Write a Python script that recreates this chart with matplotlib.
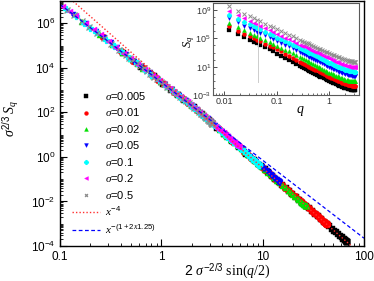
import matplotlib
matplotlib.use('Agg')
import matplotlib.pyplot as plt
import matplotlib.ticker as mticker
import numpy as np

plt.rcParams['font.family'] = ['Liberation Sans', 'DejaVu Sans']
plt.rcParams['mathtext.fontset'] = 'custom'
plt.rcParams['mathtext.rm'] = 'Liberation Sans'
plt.rcParams['mathtext.it'] = 'Liberation Serif:italic'
plt.rcParams['mathtext.sf'] = 'Liberation Serif'
plt.rcParams['mathtext.bf'] = 'Liberation Sans:bold'

# wave numbers q = 2*pi*n/1024
q = np.array([
    0.01227, 0.01841, 0.02454, 0.03068, 0.03682, 0.04295, 0.04909, 0.06136,
    0.07363, 0.08590, 0.1043, 0.1227, 0.1473, 0.1718, 0.2025, 0.2393,
    0.2823, 0.3068, 0.3313, 0.3620, 0.3927, 0.4234, 0.4602, 0.4970,
    0.5400, 0.5829, 0.6320, 0.6811, 0.7363, 0.7977, 0.8590, 0.9265,
    1.0002, 1.0799, 1.1658, 1.2579, 1.3499, 1.4542, 1.5647, 1.6690,
    1.7794, 1.9021, 2.0249, 2.1476, 2.2703, 2.3930, 2.5157, 2.6200,
    2.7305, 2.8225, 2.9146, 2.9943, 3.0680, 3.1416])

sigmas = [0.005, 0.01, 0.02, 0.05, 0.1, 0.2, 0.5]

# log10(S_q) for each sigma
log_s_0005 = [6.20, 5.59, 5.15, 4.81, 4.53, 4.30, 4.10, 3.76, 3.44, 3.17, 2.84, 2.55,
              2.24, 1.97, 1.68, 1.40, 1.11,
              0.97, 0.84, 0.68, 0.54, 0.41, 0.27, 0.14, 0.00, -0.13, -0.26, -0.39, -0.52,
              -0.65, -0.78, -0.90, -1.02, -1.14, -1.26, -1.37, -1.48, -1.59, -1.69, -1.78,
              -1.86, -1.94, -2.01, -2.07, -2.13, -2.17, -2.21, -2.24, -2.26, -2.27, -2.28,
              -2.29, -2.30, -2.30]
log_s_001 = [6.71, 6.09, 5.65, 5.31, 5.04, 4.80, 4.60, 4.26, 3.98, 3.75, 3.44, 3.16,
             2.84, 2.58, 2.29, 2.00, 1.72,
             1.57, 1.44, 1.29, 1.15, 1.02, 0.88, 0.74, 0.60, 0.47, 0.34, 0.21, 0.08,
             -0.05, -0.17, -0.29, -0.42, -0.54, -0.66, -0.77, -0.88, -0.98, -1.09, -1.17,
             -1.25, -1.34, -1.41, -1.47, -1.53, -1.57, -1.61, -1.63, -1.66, -1.67, -1.68,
             -1.69, -1.69, -1.69]
log_s_002 = [7.21, 6.59, 6.15, 5.81, 5.54, 5.30, 5.10, 4.76, 4.48, 4.25, 3.95, 3.71,
             3.43, 3.18, 2.89, 2.60, 2.32,
             2.17, 2.04, 1.89, 1.75, 1.62, 1.48, 1.34, 1.20, 1.07, 0.94, 0.81, 0.68,
             0.55, 0.43, 0.31, 0.18, 0.06, -0.06, -0.17, -0.28, -0.38, -0.49, -0.57,
             -0.65, -0.74, -0.81, -0.87, -0.93, -0.97, -1.01, -1.03, -1.06, -1.07, -1.08,
             -1.09, -1.09, -1.09]
log_s_005 = [7.87, 7.26, 6.82, 6.48, 6.20, 5.97, 5.76, 5.42, 5.15, 4.91, 4.62, 4.37,
             4.09, 3.86, 3.61, 3.36, 3.11,
             2.97, 2.84, 2.68, 2.55, 2.42, 2.27, 2.14, 2.00, 1.87, 1.74, 1.61, 1.48,
             1.35, 1.23, 1.10, 0.98, 0.86, 0.74, 0.63, 0.52, 0.41, 0.31, 0.23,
             0.15, 0.06, -0.01, -0.07, -0.13, -0.17, -0.21, -0.24, -0.26, -0.27, -0.28,
             -0.29, -0.29, -0.30]
log_s_01 = [8.37, 7.76, 7.32, 6.98, 6.70, 6.47, 6.26, 5.92, 5.65, 5.41, 5.12, 4.87,
            4.59, 4.36, 4.11, 3.86, 3.61,
            3.48, 3.37, 3.24, 3.11, 3.00, 2.87, 2.74, 2.60, 2.47, 2.34, 2.21, 2.08,
            1.95, 1.83, 1.70, 1.58, 1.46, 1.34, 1.23, 1.12, 1.01, 0.91, 0.83,
            0.75, 0.66, 0.59, 0.53, 0.47, 0.43, 0.39, 0.36, 0.34, 0.33, 0.32,
            0.31, 0.31, 0.30]
log_s_02 = [8.87, 8.26, 7.82, 7.48, 7.20, 6.97, 6.77, 6.43, 6.15, 5.92, 5.62, 5.37,
            5.10, 4.87, 4.61, 4.36, 4.11,
            3.99, 3.87, 3.74, 3.62, 3.50, 3.38, 3.26, 3.14, 3.03, 2.91, 2.80, 2.68,
            2.55, 2.43, 2.31, 2.18, 2.06, 1.94, 1.83, 1.72, 1.62, 1.52, 1.43,
            1.35, 1.27, 1.19, 1.13, 1.08, 1.03, 1.00, 0.97, 0.94, 0.93, 0.92,
            0.91, 0.91, 0.91]
log_s_05 = [9.54, 8.92, 8.48, 8.14, 7.87, 7.63, 7.43, 7.09, 6.81, 6.58, 6.28, 6.04,
            5.76, 5.53, 5.28, 5.02, 4.78,
            4.65, 4.53, 4.40, 4.28, 4.17, 4.04, 3.93, 3.80, 3.69, 3.57, 3.46, 3.35,
            3.23, 3.12, 3.02, 2.91, 2.81, 2.70, 2.60, 2.51, 2.41, 2.31, 2.22,
            2.14, 2.06, 1.99, 1.93, 1.87, 1.83, 1.79, 1.76, 1.74, 1.73, 1.72,
            1.71, 1.70, 1.70]
log_s = [log_s_0005, log_s_001, log_s_002, log_s_005, log_s_01, log_s_02, log_s_05]

colors = ['black', '#ff0000', '#00e000', '#0000ff', '#00ffff', '#ff00ff', '#8c8c8c']
markers = ['s', 'o', '^', 'v', 'P', '<', 'x']

# reference power laws
amp_x4 = 3200.0
amp_x35 = 2240.0
exp_x4 = 4.0
exp_x35 = 1 + 2 * 1.25

fig = plt.figure(figsize=(3.74, 2.81), dpi=100)
ax = fig.add_axes([0.1604, 0.1246, 0.8128, 0.8719])

handles = []
for sig, ls_vals, c, m in zip(sigmas, log_s, colors, markers):
    s_q = 10.0 ** np.array(ls_vals)
    xs = 2 * sig ** (-2 / 3) * np.sin(q / 2)
    ys = sig ** (2 / 3) * s_q
    is_thin = m in ('x', 'P')
    h, = ax.plot(xs, ys, linestyle='none', marker=m, color=c,
                 markersize=3.8 if m == 'x' else 5.0,
                 markeredgewidth=0.9 if is_thin else 0.3)
    handles.append(h)

xline = np.logspace(-1, 2, 200)
h4, = ax.plot(xline, amp_x4 * xline ** -exp_x4, color='#ff3030', linestyle=(0, (1, 1.5)), lw=1.0)
h35, = ax.plot(xline, amp_x35 * xline ** -exp_x35, color='#0000ff', linestyle=(0, (3, 2)), lw=0.9)

ax.set_xscale('log')
ax.set_yscale('log')
ax.set_xlim(0.1, 100)
ax.set_ylim(1e-4, 1e7)
ax.yaxis.set_major_locator(mticker.FixedLocator([1e-4, 1e-2, 1e0, 1e2, 1e4, 1e6]))
ax.yaxis.set_major_formatter(mticker.LogFormatterSciNotation())
ax.yaxis.set_minor_locator(mticker.LogLocator(base=10, subs=np.arange(1, 10), numticks=100))
ax.yaxis.set_minor_formatter(mticker.NullFormatter())
ax.xaxis.set_minor_locator(mticker.LogLocator(base=10, subs=np.arange(2, 10), numticks=100))
ax.xaxis.set_minor_formatter(mticker.NullFormatter())
ax.xaxis.set_major_formatter(mticker.FuncFormatter(lambda v, p: f'{v:g}'))
ax.tick_params(which='both', direction='in', labelsize=8.5)
ax.tick_params(which='major', length=5, width=0.8)
ax.tick_params(which='minor', length=2.5, width=0.6)
for sp in ax.spines.values():
    sp.set_linewidth(1.0)

ax.set_xlabel(r'2 $\sigma^{-2/3}\ \mathsf{sin(}q\mathsf{/2)}$', fontsize=10)
ax.xaxis.set_label_coords(0.55, -0.065)
ax.set_ylabel(r'$\sigma^{2/3}\,S_q$', fontsize=10)
ax.yaxis.set_label_coords(-0.125, 0.52)

labels = [rf'$\sigma$={s:g}' for s in sigmas] + [r'$x^{-4}$', r'$x^{-(1+2x1.25)}$']
ax.legend(handles + [h4, h35], labels, loc='upper left', bbox_to_anchor=(0.025, 0.655),
          frameon=False, fontsize=8, handlelength=2.5, handletextpad=0.45,
          labelspacing=0.4, borderaxespad=0, borderpad=0.4, markerscale=0.55)

# inset: raw S_q vs q
ins = fig.add_axes([0.5695, 0.6619, 0.3904, 0.3274])
for ls_vals, c, m in zip(log_s, colors, markers):
    ins.plot(q, 10.0 ** np.array(ls_vals), linestyle='none', marker=m, color=c,
             markersize=2.6 if m == 'x' else 3.0,
             markeredgewidth=0.7 if m in ('x', 'P') else 0.2)
vline_q = 0.045
ins.plot([vline_q, vline_q], [10 ** -1.2, 10 ** 7.5], color='0.8', lw=0.7)
ins.set_xscale('log')
ins.set_yscale('log')
ins.set_xlim(0.0062, 3.7)
ins.set_ylim(1e-3, 1e10)
ins.yaxis.set_major_locator(mticker.FixedLocator([1e-3, 1e1, 1e5, 1e9]))
ins.yaxis.set_major_formatter(mticker.LogFormatterSciNotation())
ins.yaxis.set_minor_locator(mticker.FixedLocator([10.0 ** k for k in range(-3, 11)]))
ins.yaxis.set_minor_formatter(mticker.NullFormatter())
ins.xaxis.set_major_locator(mticker.FixedLocator([0.01, 0.1, 1]))
ins.xaxis.set_major_formatter(mticker.FuncFormatter(lambda v, p: f'{v:g}'))
ins.xaxis.set_minor_locator(mticker.LogLocator(base=10, subs=np.arange(2, 10), numticks=100))
ins.xaxis.set_minor_formatter(mticker.NullFormatter())
ins.tick_params(which='both', direction='in', labelsize=6.5, pad=1.5, colors='0.2')
ins.tick_params(which='major', length=3, width=0.6)
ins.tick_params(which='minor', length=1.5, width=0.5)
for sp in ins.spines.values():
    sp.set_linewidth(0.8)
    sp.set_color('0.35')
ins.set_xlabel(r'$q$', fontsize=10, labelpad=0)
ins.xaxis.set_label_coords(0.6, -0.1)
ins.set_ylabel(r'$S_q$', fontsize=9)
ins.yaxis.set_label_coords(-0.11, 0.58)

fig.savefig('out.png', dpi=100)
